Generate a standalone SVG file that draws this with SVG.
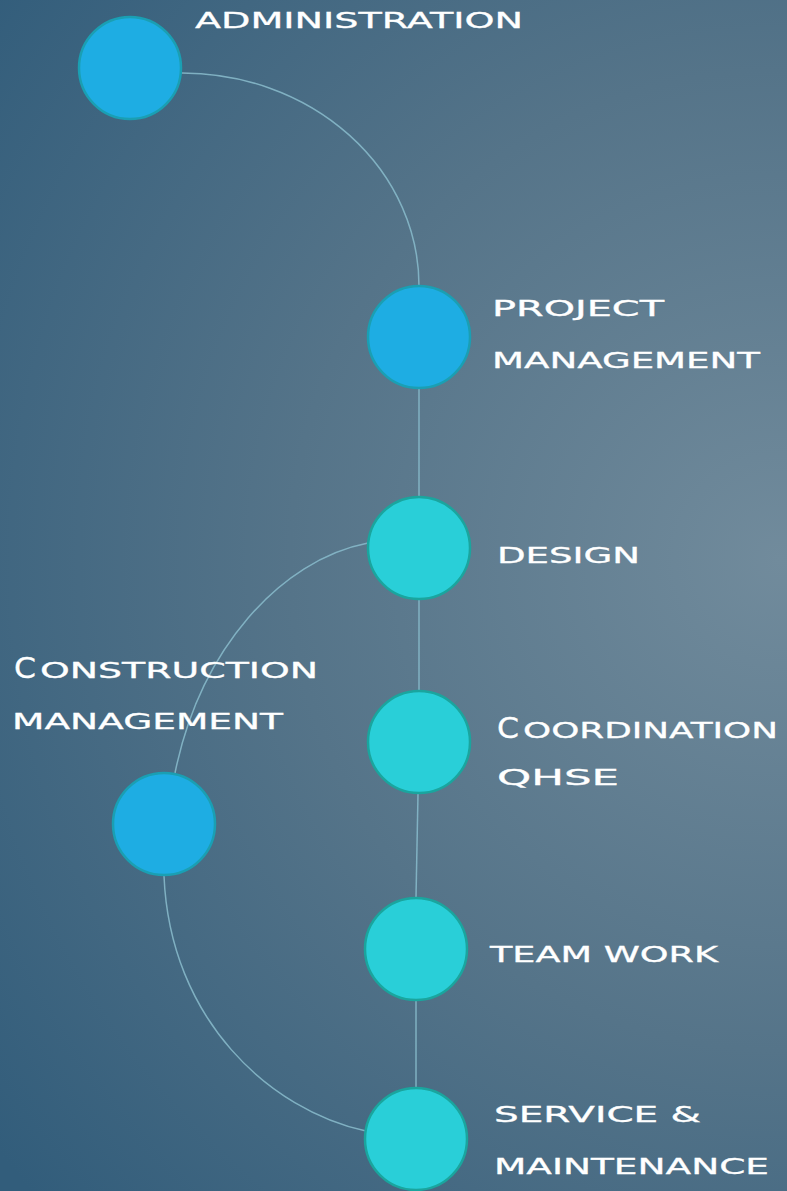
<svg xmlns="http://www.w3.org/2000/svg" width="787" height="1191" viewBox="0 0 787 1191">
<defs>
<radialGradient id="bg" gradientUnits="userSpaceOnUse" cx="780" cy="560" r="980">
<stop offset="0" stop-color="#718b9c"/>
<stop offset="0.5" stop-color="#557489"/>
<stop offset="1" stop-color="#325d7b"/>
</radialGradient>
<style>
.lbl{font-family:"DejaVu Sans","Liberation Sans",sans-serif;font-size:21px;fill:#ffffff;stroke:#ffffff;stroke-width:0.3;}
.big{font-size:28px;}
.blue{fill:#1eade3;stroke:#1a9fb3;stroke-width:2.5;}
.teal{fill:#29cfd8;stroke:#1aa59e;stroke-width:2.5;}
.conn{fill:none;stroke:#86b8c9;stroke-width:1.5;stroke-opacity:0.9;}
</style>
</defs>
<rect width="787" height="1191" fill="url(#bg)"/>
<g id="connectors">
<path class="conn" d="M182,73 A237,213 0 0 1 419,286"/>
<path class="conn" d="M419,388 L419,497"/>
<path class="conn" d="M419,600 L419,690"/>
<path class="conn" d="M418,794 L416,897"/>
<path class="conn" d="M416,1001 L416,1088"/>
<path class="conn" d="M368,543 C280,560 200,650 175,773"/>
<path class="conn" d="M164,876 C170,1020 270,1110 366,1131"/>
</g>
<g id="administration">
<circle class="blue" cx="130" cy="68" r="51"/>
<text class="lbl" x="195" y="28" textLength="328" lengthAdjust="spacingAndGlyphs">ADMINISTRATION</text>
</g>
<g id="project-management">
<circle class="blue" cx="419" cy="337" r="51"/>
<text class="lbl" x="492" y="316" textLength="172" lengthAdjust="spacingAndGlyphs">PROJECT</text>
<text class="lbl" x="492" y="368" textLength="268" lengthAdjust="spacingAndGlyphs">MANAGEMENT</text>
</g>
<g id="design">
<circle class="teal" cx="419" cy="548" r="51"/>
<text class="lbl" x="497" y="563" textLength="143" lengthAdjust="spacingAndGlyphs">DESIGN</text>
</g>
<g id="construction-management">
<circle class="blue" cx="164" cy="824" r="51"/>
<text class="lbl big" x="14" y="678" textLength="22" lengthAdjust="spacingAndGlyphs">C</text>
<text class="lbl" x="40" y="678" textLength="278" lengthAdjust="spacingAndGlyphs">ONSTRUCTION</text>
<text class="lbl" x="12" y="729" textLength="271" lengthAdjust="spacingAndGlyphs">MANAGEMENT</text>
</g>
<g id="coordination-qhse">
<circle class="teal" cx="419" cy="742" r="51"/>
<text class="lbl big" x="497" y="738" textLength="22" lengthAdjust="spacingAndGlyphs">C</text>
<text class="lbl" x="523" y="738" textLength="255" lengthAdjust="spacingAndGlyphs">OORDINATION</text>
<text class="lbl" x="497" y="785" textLength="122" lengthAdjust="spacingAndGlyphs">QHSE</text>
</g>
<g id="team-work">
<circle class="teal" cx="416" cy="949" r="51"/>
<text class="lbl" x="490" y="962" textLength="228" lengthAdjust="spacingAndGlyphs">TEAM WORK</text>
</g>
<g id="service-maintenance">
<circle class="teal" cx="416" cy="1139" r="51"/>
<text class="lbl" x="494" y="1122" textLength="207" lengthAdjust="spacingAndGlyphs">SERVICE &amp;</text>
<text class="lbl" x="494" y="1174" textLength="275" lengthAdjust="spacingAndGlyphs">MAINTENANCE</text>
</g>
</svg>
